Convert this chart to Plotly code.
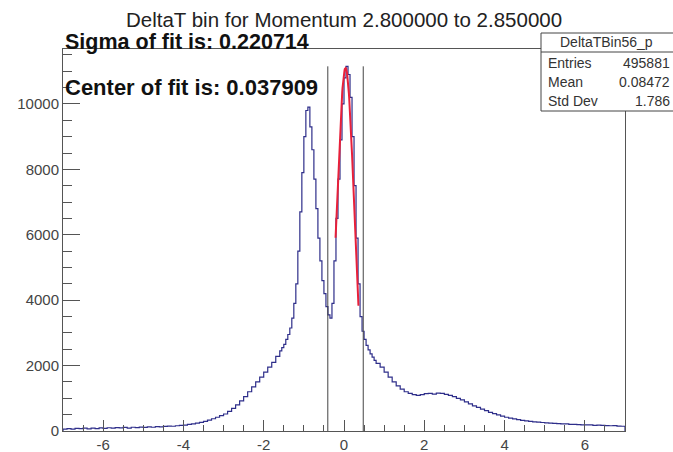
import numpy as np
import plotly.graph_objects as go

# ---- data -------------------------------------------------------------
title_text = "DeltaT bin for Momentum 2.800000 to 2.850000"
hist_name = "DeltaTBin56_p"
stat_labels = ["Entries", "Mean", "Std Dev"]
stat_values = ["495881", "0.08472", "1.786"]

fit_sigma = 0.220714
fit_center = 0.037909
fit_amplitude = 11100
fit_range = [-0.21, 0.36]

x_tickvals = [-6, -4, -2, 0, 2, 4, 6]
x_ticktext = ["-6", "-4", "-2", "0", "2", "4", "6"]
y_tickvals = [0, 2000, 4000, 6000, 8000, 10000]
y_ticktext = ["0", "2000", "4000", "6000", "8000", "10000"]

# coarse bins (width 0.1) from -7.0 to -1.6
counts_left = [60, 75, 55, 80, 70, 90, 65, 85, 75, 95,
               80, 100, 85, 105, 95, 110, 90, 115, 105, 120,
               110, 125, 115, 135, 125, 140, 150, 145, 160, 170,
               180, 200, 215, 240, 265, 295, 330, 375, 420, 470,
               520, 600, 690, 800, 920, 1050, 1200, 1350, 1500, 1650,
               1800, 1950, 2100, 2280]
# fine bins (width 0.05) from -1.6 to 0.8
counts_mid = [2450, 2550, 2650, 2800, 2950, 3150, 3450, 3900, 4500, 5500,
              6700, 7900, 9000, 9800, 9900, 9300, 8600, 7700, 6800, 5900,
              5200, 4600, 4200, 3800, 3550, 3450, 3900, 5200, 6500, 7700,
              8900, 10000, 10800, 11150, 10900, 10200, 9000, 7500, 5900, 4500,
              3500, 3050, 2800, 2620, 2480, 2360, 2260, 2160]
# coarse bins (width 0.1) from 0.8 to 7.0
counts_right = [2070, 1950,
                1800, 1650, 1500, 1380, 1280,
                1200, 1150, 1110, 1090, 1110,
                1140, 1150, 1130, 1160, 1150,
                1120, 1090, 1050, 1000, 950,
                890, 830, 770, 720, 670,
                620, 570, 530, 490, 455,
                420, 395, 370, 345, 325,
                310, 295, 280, 270, 260,
                250, 240, 235, 225, 220, 215, 205, 200, 195, 190,
                185, 190, 175, 180, 170, 165, 160, 165, 150, 145]

# ---- bin edges ---------------------------------------------------------
edges = np.concatenate([
    np.linspace(-7.0, -1.6, len(counts_left) + 1)[:-1],
    np.linspace(-1.6, 0.8, len(counts_mid) + 1)[:-1],
    np.linspace(0.8, 7.0, len(counts_right) + 1),
])
counts = np.array(counts_left + counts_mid + counts_right, dtype=float)

# step outline of the histogram
step_x = [edges[0]]
step_y = [0.0]
for i, c in enumerate(counts):
    step_x += [edges[i], edges[i + 1]]
    step_y += [c, c]
step_x.append(edges[-1])
step_y.append(0.0)

# gaussian fit curve over the fit range
fx = np.linspace(fit_range[0], fit_range[1], 80)
fy = fit_amplitude * np.exp(-0.5 * ((fx - fit_center) / fit_sigma) ** 2)

# +/- 2 sigma markers
lo_cut = fit_center - 2 * fit_sigma
hi_cut = fit_center + 2 * fit_sigma
ymax_line = counts.max()

W, H = 673, 452
L, R, T, B = 63, 625, 49, 431   # plot frame in pixels


def px(x):
    # pixel -> paper (paper spans from L to the right edge of the page)
    return (x - L) / (W - L)


def py(y):
    return (B - y) / (B - T)


fig = go.Figure()
fig.add_trace(go.Scatter(x=step_x, y=step_y, mode="lines",
                         line=dict(color="#2e2e8a", width=1.2),
                         hoverinfo="skip"))
for xc in (lo_cut, hi_cut):
    fig.add_trace(go.Scatter(x=[xc, xc], y=[0, ymax_line], mode="lines",
                             line=dict(color="#444444", width=1),
                             hoverinfo="skip"))
fig.add_trace(go.Scatter(x=fx, y=fy, mode="lines",
                         line=dict(color="#e8203a", width=2),
                         hoverinfo="skip"))

font_main = "Liberation Sans, Arial, Helvetica, sans-serif"
axis_col = "#555555"

fig.update_layout(
    width=W, height=H,
    margin=dict(l=L, r=0, t=T, b=H - B),
    paper_bgcolor="white", plot_bgcolor="white",
    showlegend=False,
    font=dict(family=font_main, size=15, color="#444444"),
    xaxis=dict(domain=[0, (R - L) / (W - L)], range=[-7, 7],
               tickmode="array", tickvals=x_tickvals, ticktext=x_ticktext,
               ticks="inside", ticklen=11, tickcolor=axis_col,
               showline=True, linecolor=axis_col, linewidth=1, mirror=True,
               showgrid=False, zeroline=False,
               minor=dict(dtick=0.5, tick0=0, ticks="inside", ticklen=6,
                          tickcolor=axis_col),
               tickfont=dict(size=15, color="#444444")),
    yaxis=dict(range=[0, 11680],
               tickmode="array", tickvals=y_tickvals, ticktext=y_ticktext,
               ticks="inside", ticklen=17, tickcolor=axis_col,
               showline=True, linecolor=axis_col, linewidth=1, mirror=True,
               showgrid=False, zeroline=False,
               minor=dict(dtick=500, tick0=0, ticks="inside", ticklen=9,
                          tickcolor=axis_col),
               tickfont=dict(size=15, color="#444444")),
)

annotations = [
    dict(text=title_text, x=px(344), y=py(19), xref="paper", yref="paper",
         xanchor="center", yanchor="middle", showarrow=False,
         font=dict(size=20.5, color="#222222")),
    dict(text="<b>Sigma of fit is: 0.220714</b>", x=px(63), y=py(42),
         xref="paper", yref="paper", xanchor="left", yanchor="middle",
         showarrow=False, font=dict(size=21.5, color="#111111")),
    dict(text="<b>Center of fit is: 0.037909</b>", x=px(63), y=py(87),
         xref="paper", yref="paper", xanchor="left", yanchor="middle",
         showarrow=False, font=dict(size=22, color="#111111")),
    dict(text=hist_name, x=px(606), y=py(42), xref="paper", yref="paper",
         xanchor="center", yanchor="middle", showarrow=False,
         font=dict(size=14, color="#333333")),
]
row_y = [63, 82, 101]
for lab, val, yy in zip(stat_labels, stat_values, row_y):
    annotations.append(dict(text=lab, x=px(546), y=py(yy), xref="paper",
                            yref="paper", xanchor="left", yanchor="middle",
                            showarrow=False,
                            font=dict(size=14, color="#333333")))
    annotations.append(dict(text=val, x=px(672), y=py(yy), xref="paper",
                            yref="paper", xanchor="right", yanchor="middle",
                            showarrow=False,
                            font=dict(size=14, color="#333333")))
fig.update_layout(annotations=annotations)

fig.update_layout(shapes=[
    dict(type="rect", xref="paper", yref="paper",
         x0=px(541), x1=px(675), y0=py(111), y1=py(33),
         line=dict(color="#444444", width=1), fillcolor="white", layer="above"),
    dict(type="line", xref="paper", yref="paper",
         x0=px(541), x1=px(675), y0=py(52), y1=py(52),
         line=dict(color="#444444", width=1), layer="above"),
])

fig.write_html("out.html")
